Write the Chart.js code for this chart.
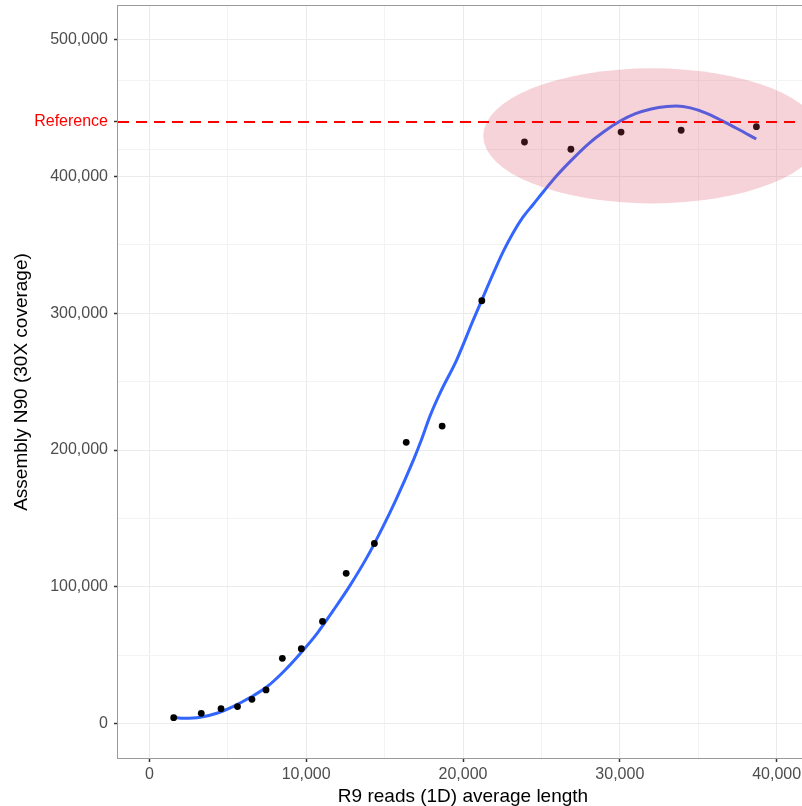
<!DOCTYPE html>
<html><head><meta charset="utf-8">
<script src="https://cdn.jsdelivr.net/npm/chart.js@4"></script>
<style>
html,body{margin:0;padding:0;overflow:hidden;background:#fff;width:802px;height:806px}
#wrap{position:absolute;left:0;top:0;width:812px;height:806px}
</style>
</head><body><div id="wrap"><canvas id="c" width="812" height="806"></canvas></div>
<script>
// ---- data ----
const readLength = [1550, 3310, 4570, 5620, 6540, 7440, 8480, 9690, 11040, 12550, 14350, 16380, 18670, 21200, 23920, 26880, 30080, 33910, 38710];
const assemblyN90 = [4200, 7400, 10800, 12300, 17600, 24500, 47600, 54600, 74600, 109800, 131600, 205600, 217500, 309200, 425300, 420000, 432600, 433900, 436500];
const smoothX = [1550, 2200, 3250, 4300, 5400, 6450, 7500, 8550, 9600, 10700, 11750, 12800, 13900, 14900, 15700, 16850, 17300, 17900, 18550, 19600, 20650, 21200, 22000, 22600, 23200, 23800, 24500, 25200, 26000, 27000, 28000, 29000, 30000, 31000, 32000, 33000, 33600, 34500, 35500, 36500, 37500, 38700];
const smoothY = [4500, 3800, 4500, 7400, 12700, 19100, 26800, 37800, 50800, 65900, 83000, 101000, 122000, 144000, 163000, 193000, 206000, 225000, 242000, 266000, 295000, 309700, 331000, 346000, 359000, 370000, 380000, 390000, 401000, 413000, 424000, 433000, 440500, 446000, 449500, 451300, 451600, 450300, 446500, 441000, 435000, 427500];
const xMajorTicks = [0, 10000, 20000, 30000, 40000];
const xMinorTicks = [5000, 15000, 25000, 35000];
const yMajorTicks = [0, 100000, 200000, 300000, 400000, 500000];
const yMinorTicks = [50000, 150000, 250000, 350000, 420000, 470000];
const referenceValue = 440000;
const referenceLabel = 'Reference';
const highlightCenter = [32050, 429800];
const highlightRadius = [10760, 49400];
const xTitle = 'R9 reads (1D) average length';
const yTitle = 'Assembly N90 (30X coverage)';

const FONT = "'Liberation Sans', Arial, Helvetica, sans-serif";
Chart.defaults.font.family = FONT;

const fmt = v => v.toLocaleString('en-US');
const isMajorX = v => xMajorTicks.includes(v);
const isMajorY = v => yMajorTicks.includes(v);

const overlay = {
  id: 'overlay',
  afterDatasetsDraw(chart) {
    const {ctx, chartArea: a, scales: {x, y}} = chart;
    ctx.save();
    ctx.beginPath();
    ctx.rect(a.left, a.top, a.right - a.left, a.bottom - a.top);
    ctx.clip();
    const cx = x.getPixelForValue(highlightCenter[0]);
    const cy = y.getPixelForValue(highlightCenter[1]);
    const rx = Math.abs(x.getPixelForValue(highlightCenter[0] + highlightRadius[0]) - cx);
    const ry = Math.abs(y.getPixelForValue(highlightCenter[1] + highlightRadius[1]) - cy);
    ctx.fillStyle = 'rgba(219,66,96,0.24)';
    ctx.beginPath();
    ctx.ellipse(cx, cy, rx, ry, 0, 0, Math.PI * 2);
    ctx.fill();
    const yr = y.getPixelForValue(referenceValue);
    ctx.strokeStyle = '#FF0000';
    ctx.lineWidth = 2;
    ctx.setLineDash([11, 7]);
    ctx.beginPath();
    ctx.moveTo(a.left, yr);
    ctx.lineTo(a.right, yr);
    ctx.stroke();
    ctx.restore();
    ctx.save();
    ctx.strokeStyle = '#9a9a9a';
    ctx.lineWidth = 1;
    ctx.strokeRect(a.left - 0.5, a.top - 0.5, a.right - a.left + 1, a.bottom - a.top + 1);
    ctx.restore();
  }
};

new Chart(document.getElementById('c'), {
  type: 'scatter',
  data: {
    datasets: [
      {
        label: 'points',
        data: readLength.map((v, i) => ({x: v, y: assemblyN90[i]})),
        pointRadius: 3.4,
        pointBackgroundColor: '#000',
        pointBorderWidth: 0,
        showLine: false
      },
      {
        type: 'line',
        label: 'smooth',
        data: smoothX.map((v, i) => ({x: v, y: smoothY[i]})),
        borderColor: '#3366FF',
        borderWidth: 3,
        pointRadius: 0,
        fill: false,
        cubicInterpolationMode: 'monotone'
      }
    ]
  },
  options: {
    responsive: false,
    animation: false,
    devicePixelRatio: 1,
    layout: {padding: {top: 6, right: 4, left: 0, bottom: 0}},
    plugins: {legend: {display: false}, tooltip: {enabled: false}},
    scales: {
      x: {
        type: 'linear',
        min: -2000,
        max: 42000,
        afterBuildTicks: s => { s.ticks = [...xMajorTicks, ...xMinorTicks].sort((a, b) => a - b).map(v => ({value: v})); },
        afterFit: s => { s.height = 48; s.paddingLeft = 0; s.paddingRight = 0; },
        ticks: {
          autoSkip: false,
          maxRotation: 0,
          padding: 3,
          color: '#4D4D4D',
          font: {size: 16},
          callback: v => isMajorX(v) ? fmt(v) : ''
        },
        grid: {
          color: c => isMajorX(c.tick.value) ? '#EBEBEB' : '#F3F3F3',
          lineWidth: 1,
          tickLength: 4,
          tickColor: c => isMajorX(c.tick.value) ? '#333333' : 'rgba(0,0,0,0)',
          tickWidth: 1.5
        },
        border: {display: false},
        title: {display: true, text: xTitle, color: '#000', font: {size: 19}, padding: {top: 0, bottom: -2}}
      },
      y: {
        type: 'linear',
        min: -25300,
        max: 524800,
        afterBuildTicks: s => { s.ticks = [...yMajorTicks, referenceValue, ...yMinorTicks].sort((a, b) => a - b).map(v => ({value: v})); },
        afterFit: s => { s.width = 118; s.paddingTop = 0; s.paddingBottom = 0; },
        ticks: {
          autoSkip: false,
          padding: 6,
          color: c => c.tick.value === referenceValue ? '#FF0000' : '#4D4D4D',
          font: {size: 16},
          callback: v => v === referenceValue ? referenceLabel : (isMajorY(v) ? fmt(v) : '')
        },
        grid: {
          color: c => c.tick.value === referenceValue ? 'rgba(0,0,0,0)' : (isMajorY(c.tick.value) ? '#EBEBEB' : '#F3F3F3'),
          lineWidth: 1,
          tickLength: 4,
          tickColor: c => (isMajorY(c.tick.value) || c.tick.value === referenceValue) ? '#333333' : 'rgba(0,0,0,0)',
          tickWidth: 1.5
        },
        border: {display: false},
        title: {display: true, text: yTitle, color: '#000', font: {size: 19}, padding: {top: 10, bottom: 0}}
      }
    }
  },
  plugins: [overlay]
});
</script>
</body></html>
